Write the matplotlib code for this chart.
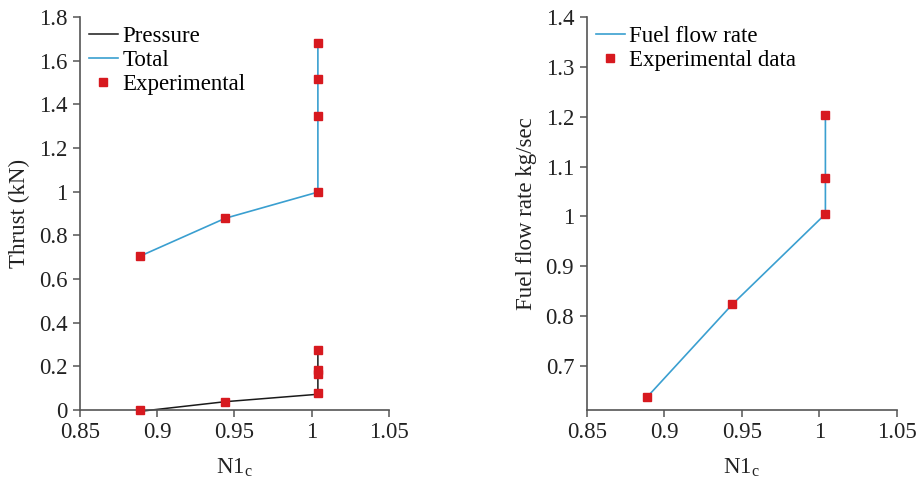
import matplotlib.pyplot as plt
from matplotlib.ticker import FuncFormatter

plt.rcParams['font.family'] = ['Liberation Serif', 'DejaVu Serif']
plt.rcParams['font.size'] = 16.5
plt.rcParams['mathtext.fontset'] = 'custom'
plt.rcParams['mathtext.rm'] = 'Liberation Serif'

# thrust vs corrected fan speed
n1_thrust = [0.889, 0.944, 1.004, 1.004, 1.004, 1.004]
total_thrust = [0.705, 0.878, 0.998, 1.345, 1.518, 1.683]
n1_pressure = [0.889, 0.944, 1.004, 1.004]
pressure_thrust = [-0.006, 0.038, 0.072, 0.27]
n1_exp_pressure = [0.889, 0.944, 1.004, 1.004, 1.004, 1.004]
exp_pressure = [0.0, 0.037, 0.078, 0.165, 0.185, 0.273]

# fuel flow vs corrected fan speed
n1_fuel = [0.889, 0.944, 1.004, 1.004, 1.004]
fuel_flow = [0.638, 0.824, 1.005, 1.077, 1.203]

x_ticks = [0.85, 0.9, 0.95, 1.0, 1.05]

blue = '#3a9fd0'
red = '#d7191f'
spine_col = '#555555'
text_col = '#222222'
fmt = FuncFormatter(lambda v, p: '{:g}'.format(round(v, 3)))

fig = plt.figure(figsize=(9.18, 4.86), dpi=100)
ax1 = fig.add_axes([0.0871, 0.1564, 0.3366, 0.8086])
ax2 = fig.add_axes([0.6391, 0.1564, 0.3377, 0.8086])

leg_kw = dict(loc='upper left', frameon=False, handlelength=1.25,
              handletextpad=0.2, labelspacing=0.12, borderaxespad=0.0,
              bbox_to_anchor=(0.0, 1.0))

for ax in (ax1, ax2):
    for s in ('top', 'right'):
        ax.spines[s].set_visible(False)
    for s in ('left', 'bottom'):
        ax.spines[s].set_color(spine_col)
        ax.spines[s].set_linewidth(1.2)
    ax.tick_params(direction='out', length=5, width=1.1, color=spine_col,
                   labelcolor=text_col, pad=4)
    ax.set_xlim(0.85, 1.05)
    ax.set_xticks(x_ticks)
    ax.xaxis.set_major_formatter(fmt)
    ax.yaxis.set_major_formatter(fmt)
    ax.set_xlabel(r'N1$_\mathrm{c}$', color=text_col, labelpad=9)

ax1.plot(n1_pressure, pressure_thrust, color='#1a1a1a', lw=1.1, label='Pressure',
         clip_on=False)
ax1.plot(n1_thrust, total_thrust, color=blue, lw=1.2, label='Total')
ax1.plot(n1_exp_pressure, exp_pressure, 's', color=red, ms=5.5, clip_on=False,
         zorder=5, label='Experimental')
ax1.plot(n1_thrust, total_thrust, 's', color=red, ms=5.5, clip_on=False, zorder=5)
ax1.set_ylim(0, 1.8)
ax1.set_yticks([0, 0.2, 0.4, 0.6, 0.8, 1.0, 1.2, 1.4, 1.6, 1.8])
ax1.set_ylabel('Thrust (kN)', color=text_col, labelpad=6)
ax1.legend(**leg_kw)

ax2.plot(n1_fuel, fuel_flow, color=blue, lw=1.2, label='Fuel flow rate')
ax2.plot(n1_fuel, fuel_flow, 's', color=red, ms=5.5, clip_on=False, zorder=5,
         label='Experimental data')
ax2.set_ylim(0.612, 1.4)
ax2.set_yticks([0.7, 0.8, 0.9, 1.0, 1.1, 1.2, 1.3, 1.4])
ax2.set_ylabel('Fuel flow rate kg/sec', color=text_col, labelpad=6)
ax2.legend(**leg_kw)

fig.savefig('out.png', dpi=100)
